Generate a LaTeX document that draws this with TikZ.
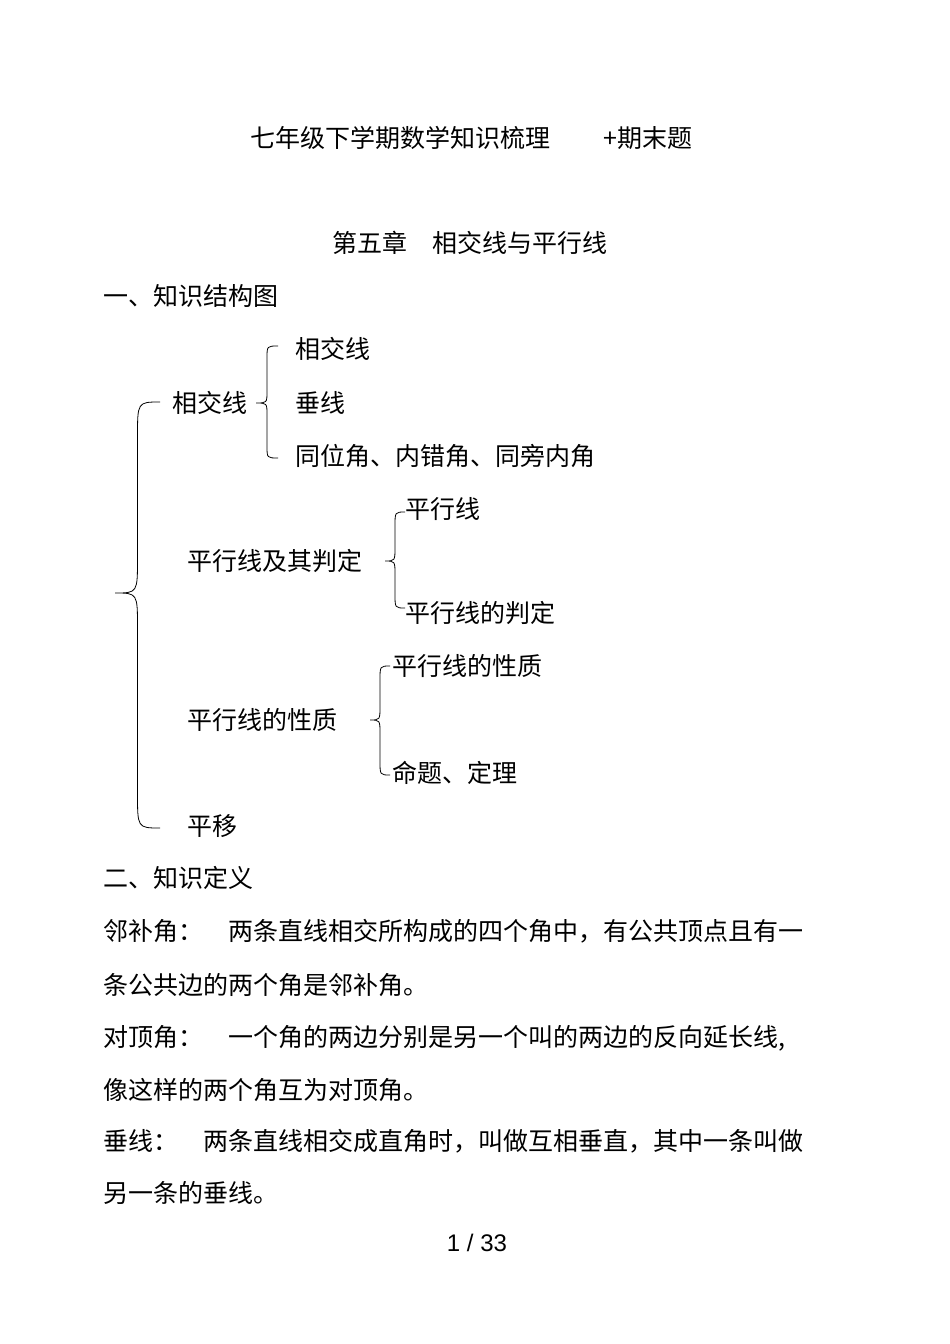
\documentclass[tikz,border=0pt]{standalone}
\usepackage{fontspec}
\newfontfamily\cjk{Noto Sans CJK SC}
\setmainfont{Liberation Sans}
\tikzset{t/.style={anchor=west,inner sep=0pt,font=\cjk\fontsize{25}{25}\selectfont},
 br/.style={line width=0.8pt}}
\newcommand{\mybrace}[6]{% xtip xright ytop ymid ybot curvelen
 \pgfmathsetmacro{\xm}{(#1+#2)/2}
 \draw[br] (#2,#3) .. controls (\xm,#3) .. (\xm,#3+#6) -- (\xm,#4-#6) .. controls (\xm,#4) .. (#1,#4)
  .. controls (\xm,#4) .. (\xm,#4+#6) -- (\xm,#5-#6) .. controls (\xm,#5) .. (#2,#5);}
\begin{document}
\begin{tikzpicture}[x=1pt,y=-1pt]
\useasboundingbox (0,0) rectangle (950,1344);
\node[t] (t1) at (250,138) {七年级下学期数学知识梳理};
\node[t] (t2) at (603,138) {+期末题};
\node[t] (c) at (332,243) {第五章　相交线与平行线};
\node[t] (h1) at (103,296) {一、知识结构图};
\node[t] (a) at (172,403) {相交线};
\node[t] (a1) at (295,349) {相交线};
\node[t] (a2) at (295,403) {垂线};
\node[t] (a3) at (295,456) {同位角、内错角、同旁内角};
\node[t] (b) at (187,561) {平行线及其判定};
\node[t] (b1) at (405,509) {平行线};
\node[t] (b2) at (405,613) {平行线的判定};
\node[t] (p) at (187,720) {平行线的性质};
\node[t] (p1) at (392,666) {平行线的性质};
\node[t] (p2) at (392,773) {命题、定理};
\node[t] (m) at (187,826) {平移};
\node[t] (h2) at (103,878) {二、知识定义};
\node[t] (l1) at (103,931) {邻补角：　两条直线相交所构成的四个角中，有公共顶点且有一};
\node[t] (l2) at (103,985) {条公共边的两个角是邻补角。};
\node[t] (l3) at (103,1038) {对顶角：　一个角的两边分别是另一个叫的两边的反向延长线,};
\node[t] (l4) at (103,1090) {像这样的两个角互为对顶角。};
\node[t] (l5) at (103,1141) {垂线：　两条直线相交成直角时，叫做互相垂直，其中一条叫做};
\node[t] (l6) at (103,1193) {另一条的垂线。};
\node[inner sep=0pt,font=\fontsize{24}{24}\selectfont] (pg) at (477,1243) {1 / 33};
\mybrace{115}{160}{402}{593}{828}{35}
\mybrace{256}{278}{346}{403}{458}{12}
\mybrace{385}{405}{512}{561}{608}{14}
\mybrace{370}{390}{666}{720}{775}{14}
\end{tikzpicture}
\end{document}
